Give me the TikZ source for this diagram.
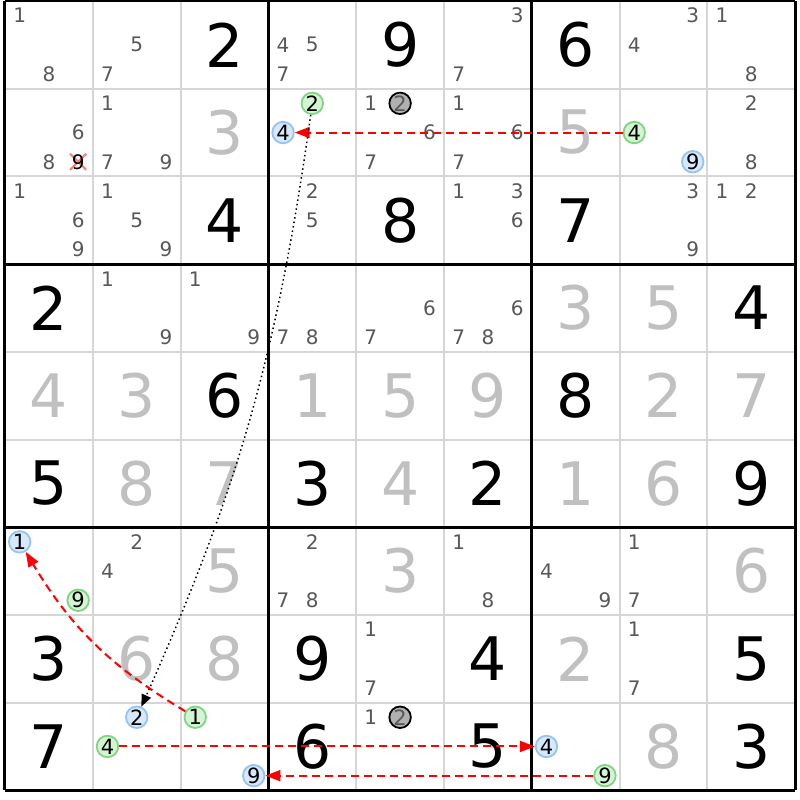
\documentclass[tikz,border=0pt]{standalone}
\usepackage{fontspec}
\setmainfont{DejaVu Sans}
\usetikzlibrary{arrows.meta}
\definecolor{candgray}{RGB}{88,88,88}
\definecolor{solvedgray}{RGB}{192,192,192}
\definecolor{gridgray}{RGB}{214,214,214}
\definecolor{ongreen}{RGB}{128,214,128}
\definecolor{ongreenfill}{RGB}{212,245,212}
\definecolor{offblue}{RGB}{150,196,240}
\definecolor{offbluefill}{RGB}{214,232,250}
\definecolor{elimgray}{RGB}{176,176,176}
\definecolor{crossred}{RGB}{240,130,130}
\definecolor{linkred}{RGB}{255,0,0}

\begin{document}
\begin{tikzpicture}[x=87.8pt,y=-87.7pt]
 \tikzset{
 	cand/.style={text=candgray,inner sep=0,font=\fontsize{20}{20}\selectfont},
 	given/.style={inner sep=0,font=\fontsize{60}{60}\selectfont},
 	solved/.style={given,text=solvedgray},
 	on node/.style={circle,draw=ongreen,fill=ongreenfill,line width=1.8pt,minimum size=21.5pt,inner sep=0,font=\fontsize{21}{21}\selectfont},
 	off node/.style={on node,draw=offblue,fill=offbluefill},
 	elim node/.style={on node,draw=black,fill=elimgray,text=candgray},
 	link/.style={draw=linkred,line width=2pt,dash pattern=on 8pt off 5pt,-{Triangle[length=15pt,width=11pt]}},
 	chain/.style={draw=black,line width=1.5pt,dash pattern=on 1.5pt off 3pt,-{Triangle[length=12pt,width=10pt]}}
 }
 \fill[white] (-5pt,1pt) rectangle (795pt,-799pt);
 \useasboundingbox (-5pt,1pt) rectangle (795pt,-799pt);

 \foreach \i in {1,...,8} {
   \draw[gridgray,line width=2pt] (\i,0) -- (\i,9);
   \draw[gridgray,line width=2pt] (0,\i) -- (9,\i);
 }
 \foreach \i in {0,3,6,9} {
   \draw[black,line width=3pt] (\i,0) -- (\i,9);
   \draw[black,line width=3pt] (0,\i) -- (9,\i);
 }

 \foreach \c/\r/\d in {3/1/2,5/1/9,7/1/6,3/3/4,5/3/8,7/3/7,1/4/2,9/4/4,3/5/6,7/5/8,
     1/6/5,4/6/3,6/6/2,9/6/9,1/8/3,4/8/9,6/8/4,9/8/5,1/9/7,4/9/6,6/9/5,9/9/3}
   \node[given] at (\c-.5,\r-.5) {\d};
 \foreach \c/\r/\d in {3/2/3,7/2/5,7/4/3,8/4/5,1/5/4,2/5/3,4/5/1,5/5/5,6/5/9,8/5/2,9/5/7,
     2/6/8,3/6/7,5/6/4,7/6/1,8/6/6,3/7/5,5/7/3,9/7/6,2/8/6,3/8/8,7/8/2,8/9/8}
   \node[solved] at (\c-.5,\r-.5) {\d};

 \foreach \c/\r/\ds in {1/1/{1,8},2/1/{5,7},4/1/{4,5,7},6/1/{3,7},8/1/{3,4},9/1/{1,8},
     1/2/{6,8},2/2/{1,7,9},5/2/{1,6,7},6/2/{1,6,7},9/2/{2,8},
     1/3/{1,6,9},2/3/{1,5,9},4/3/{2,5},6/3/{1,3,6},8/3/{3,9},9/3/{1,2},
     2/4/{1,9},3/4/{1,9},4/4/{7,8},5/4/{6,7},6/4/{6,7,8},
     2/7/{2,4},4/7/{2,7,8},6/7/{1,8},7/7/{4,9},8/7/{1,7},
     5/8/{1,7},8/8/{1,7},5/9/{1}}
   \foreach \d in \ds
     \node[cand] at ({\c-1+(mod(\d-1,3)+.5)/3},{\r-1+(int((\d-1)/3)+.5)/3}) {\d};

 % eliminated 9
 \draw[crossred,line width=2.2pt] (0.833,1.833) ++(-8pt,-8pt) -- ++(16pt,16pt);
 \draw[crossred,line width=2.2pt] (0.833,1.833) ++(-8pt,8pt) -- ++(16pt,-16pt);
 \node[cand,text=black] (x9) at (0.833,1.833) {9};

 \node[on node] (g4a) at (7.167,1.5) {4};
 \node[off node] (b9a) at (7.833,1.833) {9};
 \node[on node] (g2) at (3.5,1.167) {2};
 \node[off node] (b4a) at (3.167,1.5) {4};
 \node[elim node] (x2a) at (4.5,1.167) {2};
 \node[off node] (b1) at (0.167,6.167) {1};
 \node[on node] (g9a) at (0.833,6.833) {9};
 \node[off node] (b2) at (1.5,8.167) {2};
 \node[on node] (g4b) at (1.167,8.5) {4};
 \node[on node] (g1) at (2.167,8.167) {1};
 \node[off node] (b9b) at (2.833,8.833) {9};
 \node[elim node] (x2b) at (4.5,8.167) {2};
 \node[off node] (b4b) at (6.167,8.5) {4};
 \node[on node] (g9b) at (6.833,8.833) {9};

 \draw[link] (g4a) -- (b4a);
 \draw[chain] (g2) to[bend left=8] (b2);
 \draw[link] (g1) to[bend left=14] (b1);
 \draw[link] (g4b) -- (b4b);
 \draw[link] (g9b) -- (b9b);
\end{tikzpicture}
\end{document}
